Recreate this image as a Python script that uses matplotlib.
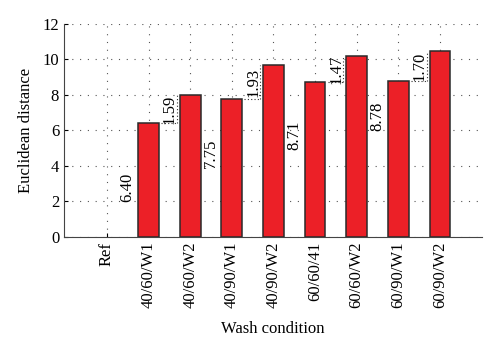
import numpy as np
import matplotlib.pyplot as plt

plt.rcParams['font.family'] = ['Liberation Serif', 'DejaVu Serif']
plt.rcParams['font.size'] = 12

# data
conditions = ['Ref', '40/60/W1', '40/60/W2', '40/90/W1', '40/90/W2',
              '60/60/41', '60/60/W2', '60/90/W1', '60/90/W2']
distance = [0.0, 6.40, 7.99, 7.75, 9.68, 8.71, 10.18, 8.78, 10.48]
# base values (first bar of each pair) and increase to the second bar
base_labels = ['6.40', '7.75', '8.71', '8.78']
diff_labels = ['1.59', '1.93', '1.47', '1.70']
base_label_y = [2.8, 4.7, 5.7, 6.8]

fig = plt.figure(figsize=(5, 3.52), dpi=100)
ax = fig.add_axes([0.128, 0.327, 0.836, 0.605])

x = np.arange(len(conditions))
lw = [1.1 if d > 0 else 0 for d in distance]
ax.bar(x, distance, width=0.5, color='#ec2027', edgecolor='#2a2a2a',
       linewidth=lw, zorder=3)

# labels on the pairs
for i in range(4):
    b = 1 + 2 * i  # first bar of the pair
    ax.text(b - 0.5, base_label_y[i], base_labels[i], rotation=90,
            ha='center', va='center', zorder=4)
    lo = distance[b]
    hi = distance[b + 1]
    ax.text(b + 0.51, (lo + hi) / 2, diff_labels[i], rotation=90,
            ha='center', va='center', zorder=4)
    # small dotted bracket
    ax.plot([b + 0.3, b + 0.68], [lo, lo], color='#333333',
            linestyle=(0, (1, 2)), linewidth=0.8, zorder=4)
    ax.plot([b + 0.68, b + 0.68], [lo, hi], color='#333333',
            linestyle=(0, (1, 2)), linewidth=0.8, zorder=4)

ax.set_xlim(-1.03, 9.01)
ax.set_ylim(0, 12)
ax.set_yticks(np.arange(0, 13, 2))
ax.set_xticks(x)
ax.set_xticklabels(conditions, rotation=90)
ax.tick_params(direction='in', length=3, width=0.8)

ax.grid(True, color='#555555', linestyle=(0, (1, 6)), linewidth=0.8)
ax.set_axisbelow(True)
for s in ['top', 'right']:
    ax.spines[s].set_visible(False)
for s in ['left', 'bottom']:
    ax.spines[s].set_color('#444444')

ax.set_ylabel('Euclidean distance', labelpad=6)
ax.set_xlabel('Wash condition', labelpad=9)

fig.savefig('out.png', dpi=100)
